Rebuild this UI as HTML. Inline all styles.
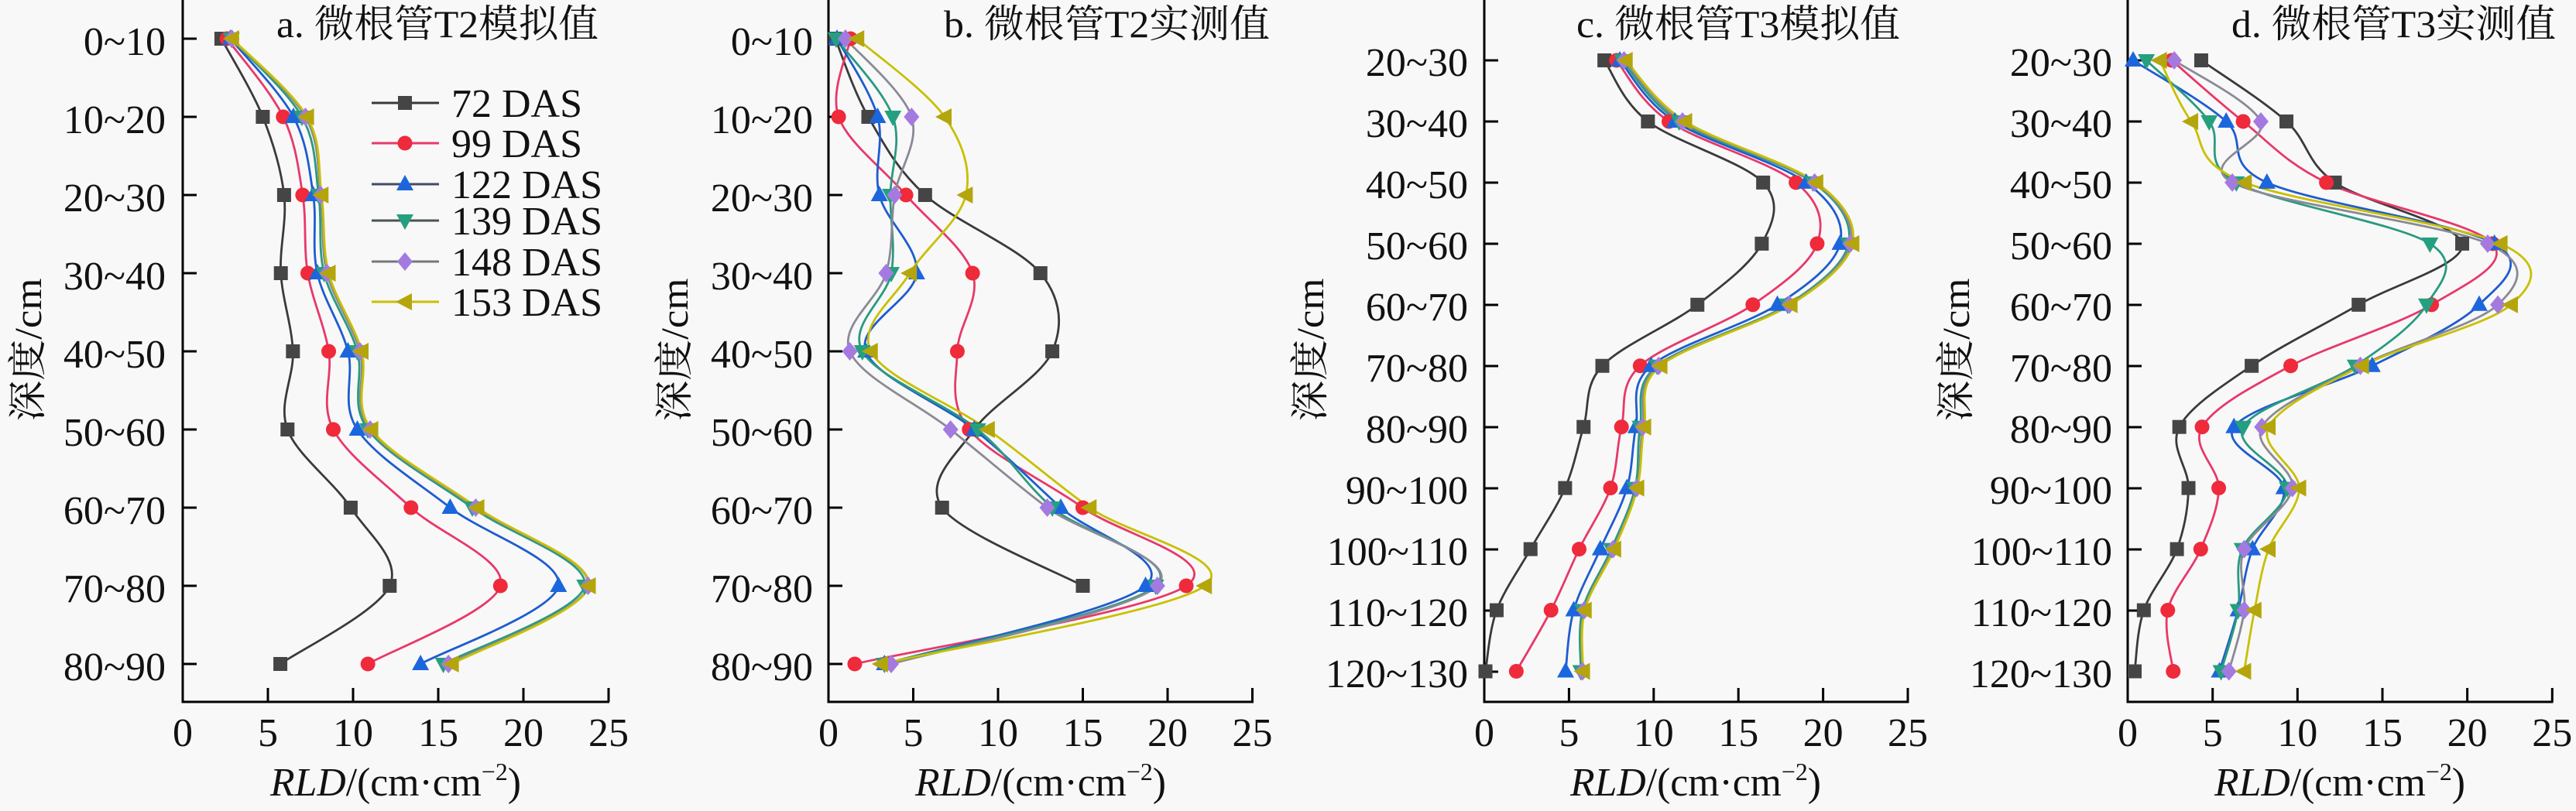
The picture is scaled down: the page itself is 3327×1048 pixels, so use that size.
<!DOCTYPE html>
<html>
<head>
<meta charset="utf-8">
<style>
html,body{margin:0;padding:0;background:#f8f8f8;}
svg{display:block;}
.tk{font-family:"Liberation Serif","Noto Serif CJK SC",serif;font-size:52px;fill:#111;}
.tt{font-family:"Liberation Serif","Noto Serif CJK SC",serif;font-size:50px;fill:#111;}
</style>
</head>
<body>
<svg id="chart" width="3327" height="1048" viewBox="0 0 3327 1048" xmlns="http://www.w3.org/2000/svg">
<rect x="0" y="0" width="3327" height="1048" fill="#f8f8f8"/>
<g id="axes" stroke="#000" stroke-width="3" fill="none">
  <!-- panel a -->
  <line x1="236" y1="0" x2="236" y2="908"/>
  <line x1="234.5" y1="907" x2="787" y2="907"/>
  <line x1="346" y1="907" x2="346" y2="889"/><line x1="456" y1="907" x2="456" y2="889"/><line x1="566" y1="907" x2="566" y2="889"/><line x1="676" y1="907" x2="676" y2="889"/><line x1="786" y1="907" x2="786" y2="889"/>
  <line x1="236" y1="50" x2="254" y2="50"/><line x1="236" y1="151" x2="254" y2="151"/><line x1="236" y1="252" x2="254" y2="252"/><line x1="236" y1="353" x2="254" y2="353"/><line x1="236" y1="454" x2="254" y2="454"/><line x1="236" y1="555" x2="254" y2="555"/><line x1="236" y1="656" x2="254" y2="656"/><line x1="236" y1="757" x2="254" y2="757"/><line x1="236" y1="858" x2="254" y2="858"/>
  <!-- panel b -->
  <line x1="1070" y1="0" x2="1070" y2="908"/>
  <line x1="1068.5" y1="907" x2="1619" y2="907"/>
  <line x1="1179.5" y1="907" x2="1179.5" y2="889"/><line x1="1289" y1="907" x2="1289" y2="889"/><line x1="1398.5" y1="907" x2="1398.5" y2="889"/><line x1="1508" y1="907" x2="1508" y2="889"/><line x1="1617.5" y1="907" x2="1617.5" y2="889"/>
  <line x1="1070" y1="50" x2="1088" y2="50"/><line x1="1070" y1="151" x2="1088" y2="151"/><line x1="1070" y1="252" x2="1088" y2="252"/><line x1="1070" y1="353" x2="1088" y2="353"/><line x1="1070" y1="454" x2="1088" y2="454"/><line x1="1070" y1="555" x2="1088" y2="555"/><line x1="1070" y1="656" x2="1088" y2="656"/><line x1="1070" y1="757" x2="1088" y2="757"/><line x1="1070" y1="858" x2="1088" y2="858"/>
  <!-- panel c -->
  <line x1="1917" y1="0" x2="1917" y2="908"/>
  <line x1="1915.5" y1="907" x2="2465.5" y2="907"/>
  <line x1="2026.4" y1="907" x2="2026.4" y2="889"/><line x1="2135.8" y1="907" x2="2135.8" y2="889"/><line x1="2245.2" y1="907" x2="2245.2" y2="889"/><line x1="2354.6" y1="907" x2="2354.6" y2="889"/><line x1="2464" y1="907" x2="2464" y2="889"/>
  <line x1="1917" y1="78" x2="1935" y2="78"/><line x1="1917" y1="157" x2="1935" y2="157"/><line x1="1917" y1="236" x2="1935" y2="236"/><line x1="1917" y1="315" x2="1935" y2="315"/><line x1="1917" y1="394" x2="1935" y2="394"/><line x1="1917" y1="473" x2="1935" y2="473"/><line x1="1917" y1="552" x2="1935" y2="552"/><line x1="1917" y1="631" x2="1935" y2="631"/><line x1="1917" y1="710" x2="1935" y2="710"/><line x1="1917" y1="789" x2="1935" y2="789"/><line x1="1917" y1="868" x2="1935" y2="868"/>
  <!-- panel d -->
  <line x1="2748" y1="0" x2="2748" y2="908"/>
  <line x1="2746.5" y1="907" x2="3297.5" y2="907"/>
  <line x1="2857.7" y1="907" x2="2857.7" y2="889"/><line x1="2967.3" y1="907" x2="2967.3" y2="889"/><line x1="3077" y1="907" x2="3077" y2="889"/><line x1="3186.6" y1="907" x2="3186.6" y2="889"/><line x1="3296.3" y1="907" x2="3296.3" y2="889"/>
  <line x1="2748" y1="78" x2="2766" y2="78"/><line x1="2748" y1="157" x2="2766" y2="157"/><line x1="2748" y1="236" x2="2766" y2="236"/><line x1="2748" y1="315" x2="2766" y2="315"/><line x1="2748" y1="394" x2="2766" y2="394"/><line x1="2748" y1="473" x2="2766" y2="473"/><line x1="2748" y1="552" x2="2766" y2="552"/><line x1="2748" y1="631" x2="2766" y2="631"/><line x1="2748" y1="710" x2="2766" y2="710"/><line x1="2748" y1="789" x2="2766" y2="789"/><line x1="2748" y1="868" x2="2766" y2="868"/>
</g>

<!-- y tick labels panel a -->
<g class="tk" text-anchor="end">
  <text x="214" y="71">0~10</text>
  <text x="214" y="172">10~20</text>
  <text x="214" y="273">20~30</text>
  <text x="214" y="374">30~40</text>
  <text x="214" y="475">40~50</text>
  <text x="214" y="576">50~60</text>
  <text x="214" y="677">60~70</text>
  <text x="214" y="778">70~80</text>
  <text x="214" y="879">80~90</text>
</g>
<g class="tk" text-anchor="end">
  <text x="1050" y="71">0~10</text>
  <text x="1050" y="172">10~20</text>
  <text x="1050" y="273">20~30</text>
  <text x="1050" y="374">30~40</text>
  <text x="1050" y="475">40~50</text>
  <text x="1050" y="576">50~60</text>
  <text x="1050" y="677">60~70</text>
  <text x="1050" y="778">70~80</text>
  <text x="1050" y="879">80~90</text>
</g>
<g class="tk" text-anchor="end">
  <text x="1896" y="98">20~30</text>
  <text x="1896" y="177">30~40</text>
  <text x="1896" y="256">40~50</text>
  <text x="1896" y="335">50~60</text>
  <text x="1896" y="414">60~70</text>
  <text x="1896" y="493">70~80</text>
  <text x="1896" y="572">80~90</text>
  <text x="1896" y="651">90~100</text>
  <text x="1896" y="730">100~110</text>
  <text x="1896" y="809">110~120</text>
  <text x="1896" y="888">120~130</text>
</g>
<g class="tk" text-anchor="end">
  <text x="2728" y="98">20~30</text>
  <text x="2728" y="177">30~40</text>
  <text x="2728" y="256">40~50</text>
  <text x="2728" y="335">50~60</text>
  <text x="2728" y="414">60~70</text>
  <text x="2728" y="493">70~80</text>
  <text x="2728" y="572">80~90</text>
  <text x="2728" y="651">90~100</text>
  <text x="2728" y="730">100~110</text>
  <text x="2728" y="809">110~120</text>
  <text x="2728" y="888">120~130</text>
</g>

<!-- x tick labels -->
<g class="tk" text-anchor="middle">
  <text x="236" y="964">0</text><text x="346" y="964">5</text><text x="456" y="964">10</text><text x="566" y="964">15</text><text x="676" y="964">20</text><text x="786" y="964">25</text>
  <text x="1070" y="964">0</text><text x="1179.5" y="964">5</text><text x="1289" y="964">10</text><text x="1398.5" y="964">15</text><text x="1508" y="964">20</text><text x="1617.5" y="964">25</text>
  <text x="1917" y="964">0</text><text x="2026.4" y="964">5</text><text x="2135.8" y="964">10</text><text x="2245.2" y="964">15</text><text x="2354.6" y="964">20</text><text x="2464" y="964">25</text>
  <text x="2748" y="964">0</text><text x="2857.7" y="964">5</text><text x="2967.3" y="964">10</text><text x="3077" y="964">15</text><text x="3186.6" y="964">20</text><text x="3296.3" y="964">25</text>
</g>

<!-- x axis titles -->
<g class="tk" text-anchor="middle">
  <text x="511" y="1028" textLength="324" lengthAdjust="spacingAndGlyphs"><tspan font-style="italic">RLD</tspan>/(cm·cm<tspan font-size="32" dy="-20">−2</tspan><tspan dy="20">)</tspan></text>
  <text x="1344" y="1028" textLength="324" lengthAdjust="spacingAndGlyphs"><tspan font-style="italic">RLD</tspan>/(cm·cm<tspan font-size="32" dy="-20">−2</tspan><tspan dy="20">)</tspan></text>
  <text x="2190" y="1028" textLength="324" lengthAdjust="spacingAndGlyphs"><tspan font-style="italic">RLD</tspan>/(cm·cm<tspan font-size="32" dy="-20">−2</tspan><tspan dy="20">)</tspan></text>
  <text x="3022" y="1028" textLength="324" lengthAdjust="spacingAndGlyphs"><tspan font-style="italic">RLD</tspan>/(cm·cm<tspan font-size="32" dy="-20">−2</tspan><tspan dy="20">)</tspan></text>
</g>

<!-- y axis titles -->
<g class="tt" text-anchor="middle">
  <text transform="translate(53,452) rotate(-90)" textLength="185" lengthAdjust="spacingAndGlyphs">深度/cm</text>
  <text transform="translate(888,452) rotate(-90)" textLength="185" lengthAdjust="spacingAndGlyphs">深度/cm</text>
  <text transform="translate(1709,452) rotate(-90)" textLength="185" lengthAdjust="spacingAndGlyphs">深度/cm</text>
  <text transform="translate(2543,452) rotate(-90)" textLength="185" lengthAdjust="spacingAndGlyphs">深度/cm</text>
</g>

<!-- panel titles -->
<g class="tt">
  <text x="357" y="48" textLength="416" lengthAdjust="spacingAndGlyphs">a. 微根管T2模拟值</text>
  <text x="1219" y="48" textLength="421" lengthAdjust="spacingAndGlyphs">b. 微根管T2实测值</text>
  <text x="2036" y="48" textLength="418" lengthAdjust="spacingAndGlyphs">c. 微根管T3模拟值</text>
  <text x="2882" y="48" textLength="419" lengthAdjust="spacingAndGlyphs">d. 微根管T3实测值</text>
</g>

<g id="series"></g>

<!-- legend -->
<g id="legend">
  <line x1="480" y1="133" x2="567" y2="133" stroke="#3a3a3a" stroke-width="3"/>
  <rect x="514" y="124" width="18" height="18" fill="#454545"/>
  <line x1="480" y1="185" x2="567" y2="185" stroke="#e8386a" stroke-width="3"/>
  <circle cx="523" cy="185" r="9.5" fill="#ee2a3b"/>
  <line x1="480" y1="238" x2="567" y2="238" stroke="#444a66" stroke-width="3"/>
  <polygon points="523,226 534,246 512,246" fill="#1c66dd"/>
  <line x1="480" y1="285" x2="567" y2="285" stroke="#4a5552" stroke-width="3"/>
  <polygon points="523,297 534,277 512,277" fill="#25a07f"/>
  <line x1="480" y1="338" x2="567" y2="338" stroke="#777" stroke-width="3"/>
  <polygon points="523,326 533,338 523,350 513,338" fill="#a47ae0"/>
  <line x1="480" y1="390" x2="567" y2="390" stroke="#c8c000" stroke-width="3"/>
  <polygon points="511,390 532,379 532,401" fill="#b4a50c"/>
  <g class="tk">
    <text x="583" y="151">72 DAS</text>
    <text x="583" y="203">99 DAS</text>
    <text x="583" y="256">122 DAS</text>
    <text x="583" y="303">139 DAS</text>
    <text x="583" y="356">148 DAS</text>
    <text x="583" y="408">153 DAS</text>
  </g>
</g>
</svg>
<script>
(function(){
  var NS="http://www.w3.org/2000/svg";
  var g=document.getElementById("series");
  var lineCol=["#3a3a3a","#e8386a","#1e5ccf","#2a9a80","#8a8a96","#c8c000"];
  var mkCol=["#454545","#ee2a3b","#1c66dd","#25a07f","#a47ae0","#b4a50c"];
  var panels=[
    {x0:236,sx:22.0,y0:50,dy:101,data:[
      [2.27,4.7,5.95,5.76,6.47,6.15,9.86,12.15,5.73],
      [2.6,5.9,7.04,7.34,8.57,8.84,13.4,18.65,10.87],
      [2.8,6.5,7.66,7.9,9.7,10.25,15.7,22.06,13.96],
      [2.85,7.0,7.98,8.3,10.25,10.87,17.0,23.6,15.3],
      [2.88,7.2,8.1,8.47,10.4,11.0,17.2,23.8,15.6],
      [2.9,7.3,8.15,8.57,10.5,11.07,17.3,23.84,15.8]]},
    {x0:1070,sx:21.9,y0:50,dy:101,data:[
      [0.4,2.35,5.7,12.5,13.2,8.6,6.7,15.0,null],
      [1.3,0.6,4.57,8.5,7.6,8.3,15.0,21.1,1.55],
      [0.5,2.9,3.0,5.2,2.2,8.6,13.7,18.7,3.3],
      [0.45,3.8,3.65,3.7,2.0,8.8,13.2,19.3,3.3],
      [1.0,4.9,3.9,3.4,1.26,7.2,12.9,19.4,3.7],
      [1.7,6.85,8.1,4.8,2.5,9.4,15.4,22.2,3.1]]},
    {x0:1917,sx:21.88,y0:78,dy:78.95,data:[
      [7.09,9.66,16.46,16.38,12.58,6.97,5.86,4.77,2.73,0.73,0.07],
      [7.8,10.9,18.4,19.65,15.85,9.2,8.1,7.45,5.6,3.94,1.89],
      [8.0,11.25,19.0,21.0,17.3,9.85,8.95,8.42,6.85,5.28,4.8],
      [8.15,11.5,19.4,21.5,17.9,10.2,9.2,8.9,7.5,5.8,5.7],
      [8.25,11.7,19.5,21.6,18.0,10.3,9.35,9.0,7.6,5.9,5.8],
      [8.35,11.86,19.6,21.73,18.08,10.4,9.44,9.03,7.67,5.93,5.83]]},
    {x0:2748,sx:21.93,y0:78,dy:78.95,data:[
      [4.33,9.35,12.2,19.7,13.6,7.3,3.04,3.58,2.9,0.95,0.41],
      [2.6,6.8,11.7,21.5,17.9,9.6,4.38,5.36,4.3,2.36,2.68],
      [0.32,5.8,8.2,21.6,20.7,14.4,6.26,9.2,7.35,6.5,5.4],
      [1.1,4.8,6.4,17.8,17.6,13.4,6.8,9.4,6.74,6.5,5.5],
      [2.74,7.84,6.16,21.2,21.8,13.7,7.9,9.7,6.86,6.86,5.96],
      [1.9,3.74,6.9,21.96,22.57,13.8,8.3,10.1,8.3,7.47,6.86]]}
  ];
  function el(n,a){var e=document.createElementNS(NS,n);for(var k in a)e.setAttribute(k,a[k]);return e;}
  function spline(pts){
    var d="M"+pts[0][0].toFixed(2)+","+pts[0][1].toFixed(2);
    for(var i=0;i<pts.length-1;i++){
      var p0=pts[i>0?i-1:i],p1=pts[i],p2=pts[i+1],p3=pts[i+2<pts.length?i+2:i+1];
      var c1x=p1[0]+(p2[0]-p0[0])/6,c1y=p1[1]+(p2[1]-p0[1])/6;
      var c2x=p2[0]-(p3[0]-p1[0])/6,c2y=p2[1]-(p3[1]-p1[1])/6;
      d+=" C"+c1x.toFixed(2)+","+c1y.toFixed(2)+" "+c2x.toFixed(2)+","+c2y.toFixed(2)+" "+p2[0].toFixed(2)+","+p2[1].toFixed(2);
    }
    return d;
  }
  function marker(s,x,y){
    var c=mkCol[s];
    if(s==0) return el("rect",{x:x-9,y:y-9,width:18,height:18,fill:c});
    if(s==1) return el("circle",{cx:x,cy:y,r:9.5,fill:c});
    var p;
    if(s==2) p=[[0,-12],[11,8],[-11,8]];
    else if(s==3) p=[[0,12],[11,-8],[-11,-8]];
    else if(s==4) p=[[0,-12],[10,0],[0,12],[-10,0]];
    else p=[[-12,0],[9,-11],[9,11]];
    return el("polygon",{points:p.map(function(q){return (x+q[0]).toFixed(2)+","+(y+q[1]).toFixed(2);}).join(" "),fill:c});
  }
  panels.forEach(function(P){
    var lg=el("g",{}),mg=el("g",{});
    P.data.forEach(function(arr,s){
      var pts=[];
      arr.forEach(function(v,i){ if(v!==null) pts.push([P.x0+v*P.sx,P.y0+i*P.dy]); });
      lg.appendChild(el("path",{d:spline(pts),fill:"none",stroke:lineCol[s],"stroke-width":2.8,"stroke-linejoin":"round"}));
      pts.forEach(function(p){ mg.appendChild(marker(s,p[0],p[1])); });
    });
    g.appendChild(lg); g.appendChild(mg);
  });
})();
</script>
</body>
</html>
